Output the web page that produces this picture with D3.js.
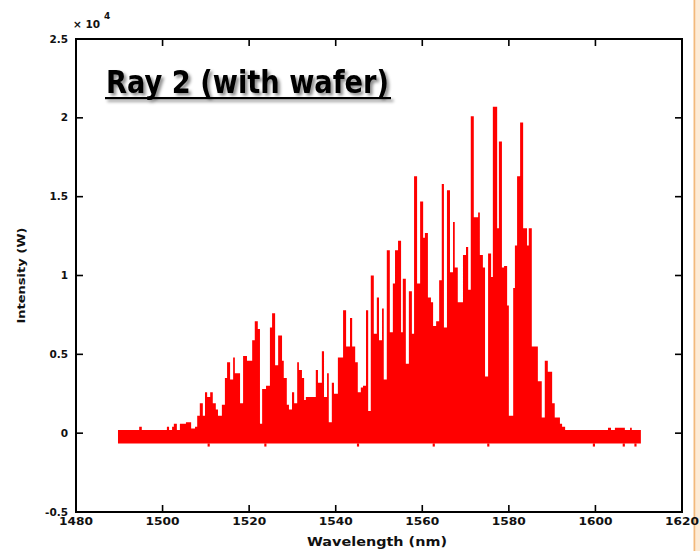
<!DOCTYPE html>
<html>
<head>
<meta charset="utf-8">
<script src="https://cdn.jsdelivr.net/npm/d3@7"></script>
<style>
  html, body { margin: 0; padding: 0; background: #ffffff; }
  svg { display: block; }
</style>
</head>
<body>
<svg id="chart" width="700" height="551"></svg>
<script>
// Spectrum of ray 2 through the wafer: the envelope of the fast fringes,
// given as steps (start wavelength in nm, peak intensity in units of 1e4 W).
const wavelength = [
  1489.7, 1494.6, 1495.2, 1501.0, 1501.5, 1502.2, 1502.6, 1503.3, 1504.0, 1505.4,
  1506.6, 1507.5, 1508.0, 1508.6, 1509.3, 1509.8, 1510.3, 1511.0, 1511.6, 1512.3,
  1512.8, 1513.7, 1514.4, 1514.9, 1515.6, 1516.3, 1516.7, 1517.9, 1518.6, 1519.5,
  1520.7, 1521.3, 1522.0, 1522.5, 1523.0, 1523.9, 1524.8, 1525.3, 1526.0, 1526.7,
  1527.6, 1528.0, 1528.7, 1529.2, 1529.9, 1530.4, 1531.1, 1531.5, 1532.2, 1532.7,
  1533.1, 1535.4, 1535.9, 1536.8, 1537.3, 1538.0, 1538.4, 1539.1, 1539.6, 1540.5,
  1541.7, 1542.4, 1543.3, 1543.8, 1544.5, 1545.1, 1545.8, 1546.3, 1547.0, 1547.5,
  1548.1, 1548.8, 1549.5, 1550.0, 1550.7, 1551.1, 1551.8, 1552.5, 1553.2, 1553.7,
  1554.4, 1555.1, 1555.5, 1556.2, 1556.9, 1557.6, 1558.1, 1558.8, 1559.5, 1560.2,
  1560.6, 1561.3, 1562.0, 1562.5, 1563.2, 1563.9, 1564.5, 1565.0, 1565.7, 1566.4,
  1567.1, 1567.5, 1568.2, 1569.4, 1570.1, 1570.6, 1571.2, 1571.9, 1572.9, 1573.3,
  1574.0, 1574.5, 1575.2, 1575.9, 1576.3, 1577.3, 1577.7, 1578.4, 1578.9, 1579.6,
  1580.0, 1581.0, 1581.4, 1581.9, 1582.6, 1583.3, 1584.2, 1584.6, 1585.3, 1586.7,
  1587.6, 1588.3, 1589.0, 1590.0, 1590.6, 1591.8, 1592.3, 1593.0, 1602.9, 1603.6,
  1604.5, 1606.8, 1608.0, 1608.4, 1610.5
];
const intensity = [
  0.02, 0.04, 0.02, 0.04, 0.02, 0.04, 0.06, 0.02, 0.06, 0.07,
  0.03, 0.04, 0.11, 0.19, 0.11, 0.26, 0.23, 0.26, 0.19, 0.15,
  0.11, 0.18, 0.35, 0.45, 0.34, 0.48, 0.38, 0.19, 0.49, 0.46,
  0.59, 0.71, 0.66, 0.06, 0.28, 0.30, 0.67, 0.76, 0.43, 0.62,
  0.46, 0.35, 0.18, 0.15, 0.26, 0.19, 0.45, 0.40, 0.35, 0.21,
  0.23, 0.40, 0.32, 0.52, 0.23, 0.38, 0.07, 0.32, 0.25, 0.48,
  0.78, 0.55, 0.73, 0.55, 0.45, 0.26, 0.29, 0.30, 0.78, 0.14,
  1.00, 0.63, 0.86, 0.59, 0.79, 0.34, 1.16, 0.64, 0.95, 1.16,
  1.22, 0.64, 0.98, 0.44, 0.90, 0.63, 1.63, 0.95, 1.47, 1.24,
  1.27, 0.86, 0.83, 0.68, 0.71, 0.97, 1.58, 0.67, 1.54, 1.02,
  1.34, 1.05, 0.83, 1.13, 1.18, 0.91, 2.01, 1.37, 1.40, 1.13,
  1.05, 0.36, 1.14, 0.99, 2.07, 1.30, 1.85, 1.05, 1.06, 0.81,
  0.11, 0.92, 1.19, 1.63, 1.97, 1.30, 1.19, 1.30, 0.55, 0.33,
  0.10, 0.46, 0.39, 0.19, 0.10, 0.06, 0.04, 0.02, 0.035, 0.02,
  0.035, 0.02, 0.035, 0.02, 0.02
];
// Lower edge of the fringes and the few deeper troughs below it
const troughLevel = -0.065;
const dipWavelength = [1510.4, 1523.5, 1544.9, 1562.4, 1575.0, 1599.4, 1606.3, 1609.0];
const dipLevel = -0.085;

const xTicks = [1480, 1500, 1520, 1540, 1560, 1580, 1600, 1620];
const yTicks = [-0.5, 0, 0.5, 1, 1.5, 2, 2.5];
const titleText = "Ray 2 (with wafer)";
const xLabel = "Wavelength (nm)";
const yLabel = "Intensity (W)";

const svg = d3.select("#chart");
const plotLeft = 76, plotRight = 682, plotTop = 39, plotBottom = 512;

const x = d3.scaleLinear().domain([1480, 1620]).range([plotLeft, plotRight]);
const y = d3.scaleLinear().domain([-0.5, 2.5]).range([plotBottom, plotTop]);

// shadow for the title
const defs = svg.append("defs");
const f = defs.append("filter").attr("id", "shadow")
  .attr("x", "-10%").attr("y", "-30%").attr("width", "120%").attr("height", "160%");
f.append("feDropShadow").attr("dx", 2.5).attr("dy", 2.5)
  .attr("stdDeviation", 1.6).attr("flood-color", "#000").attr("flood-opacity", 0.45);

// right border strip
svg.append("rect").attr("x", 693).attr("y", 0).attr("width", 7).attr("height", 551)
  .attr("fill", "#fdebd6");
svg.append("line").attr("x1", 694.5).attr("x2", 694.5).attr("y1", 0).attr("y2", 551)
  .attr("stroke", "#f3b97c").attr("stroke-width", 1.5);

// spectrum
const pts = wavelength.map((w, i) => [w, intensity[i]]);
const area = d3.area()
  .x(d => x(d[0]))
  .y0(() => y(troughLevel))
  .y1(d => y(d[1]))
  .curve(d3.curveStepAfter);
svg.append("path").datum(pts)
  .attr("d", area)
  .attr("fill", "#ff0000");

svg.append("g").selectAll("rect").data(dipWavelength).join("rect")
  .attr("x", d => x(d))
  .attr("width", d => x(d + 0.5) - x(d))
  .attr("y", y(troughLevel))
  .attr("height", y(dipLevel) - y(troughLevel))
  .attr("fill", "#ff0000");

// frame
svg.append("rect")
  .attr("x", plotLeft).attr("y", plotTop)
  .attr("width", plotRight - plotLeft).attr("height", plotBottom - plotTop)
  .attr("fill", "none").attr("stroke", "#000").attr("stroke-width", 2);

const tickLen = 7;
const font = "'DejaVu Sans', Verdana, sans-serif";

// x ticks (inside, bottom and top) and labels
const xg = svg.append("g");
xg.selectAll("line.b").data(xTicks).join("line")
  .attr("x1", d => x(d)).attr("x2", d => x(d))
  .attr("y1", plotBottom).attr("y2", plotBottom - tickLen)
  .attr("stroke", "#000").attr("stroke-width", 1.6);
xg.selectAll("line.t").data(xTicks).join("line")
  .attr("x1", d => x(d)).attr("x2", d => x(d))
  .attr("y1", plotTop).attr("y2", plotTop + tickLen)
  .attr("stroke", "#000").attr("stroke-width", 1.6);
xg.selectAll("text").data(xTicks).join("text")
  .attr("x", d => x(d)).attr("y", 525)
  .attr("text-anchor", "middle")
  .attr("font-family", font).attr("font-size", 10.5).attr("font-weight", "bold")
  .attr("textLength", 34).attr("lengthAdjust", "spacingAndGlyphs")
  .attr("fill", "#111")
  .text(d => d);

// y ticks (inside, left and right) and labels
const yg = svg.append("g");
yg.selectAll("line.l").data(yTicks).join("line")
  .attr("x1", plotLeft).attr("x2", plotLeft + tickLen)
  .attr("y1", d => y(d)).attr("y2", d => y(d))
  .attr("stroke", "#000").attr("stroke-width", 1.6);
yg.selectAll("line.r").data(yTicks).join("line")
  .attr("x1", plotRight).attr("x2", plotRight - tickLen)
  .attr("y1", d => y(d)).attr("y2", d => y(d))
  .attr("stroke", "#000").attr("stroke-width", 1.6);
yg.selectAll("text").data(yTicks).join("text")
  .attr("x", 68).attr("y", d => y(d) + 3.5)
  .attr("text-anchor", "end")
  .attr("font-family", font).attr("font-size", 10.5).attr("font-weight", "bold")
  .attr("fill", "#111")
  .text(d => d);

// scale factor above the axis
const off = svg.append("text")
  .attr("x", 73).attr("y", 28)
  .attr("font-family", font).attr("font-size", 10.5).attr("font-weight", "bold")
  .attr("fill", "#111");
off.append("tspan").text("\u00d7 10");
off.append("tspan").attr("dx", 4).attr("dy", -9).attr("font-size", 9).text("4");

// axis titles
svg.append("text")
  .attr("x", 377).attr("y", 546)
  .attr("text-anchor", "middle")
  .attr("font-family", font).attr("font-size", 11.5).attr("font-weight", "bold")
  .attr("textLength", 140).attr("lengthAdjust", "spacingAndGlyphs")
  .attr("fill", "#111")
  .text(xLabel);
svg.append("text")
  .attr("transform", `translate(25, ${(plotTop + plotBottom) / 2}) rotate(-90)`)
  .attr("text-anchor", "middle")
  .attr("font-family", font).attr("font-size", 11).attr("font-weight", "bold")
  .attr("textLength", 96).attr("lengthAdjust", "spacingAndGlyphs")
  .attr("fill", "#111")
  .text(yLabel);

// title, underlined, with a drop shadow
const tg = svg.append("g").attr("filter", "url(#shadow)");
tg.append("text")
  .attr("x", 106).attr("y", 93)
  .attr("font-family", font).attr("font-size", 32).attr("font-weight", "bold")
  .attr("textLength", 283).attr("lengthAdjust", "spacingAndGlyphs")
  .attr("fill", "#000")
  .text(titleText);
tg.append("rect")
  .attr("x", 105).attr("y", 97).attr("width", 286).attr("height", 2.2)
  .attr("fill", "#000");
</script>
</body>
</html>
